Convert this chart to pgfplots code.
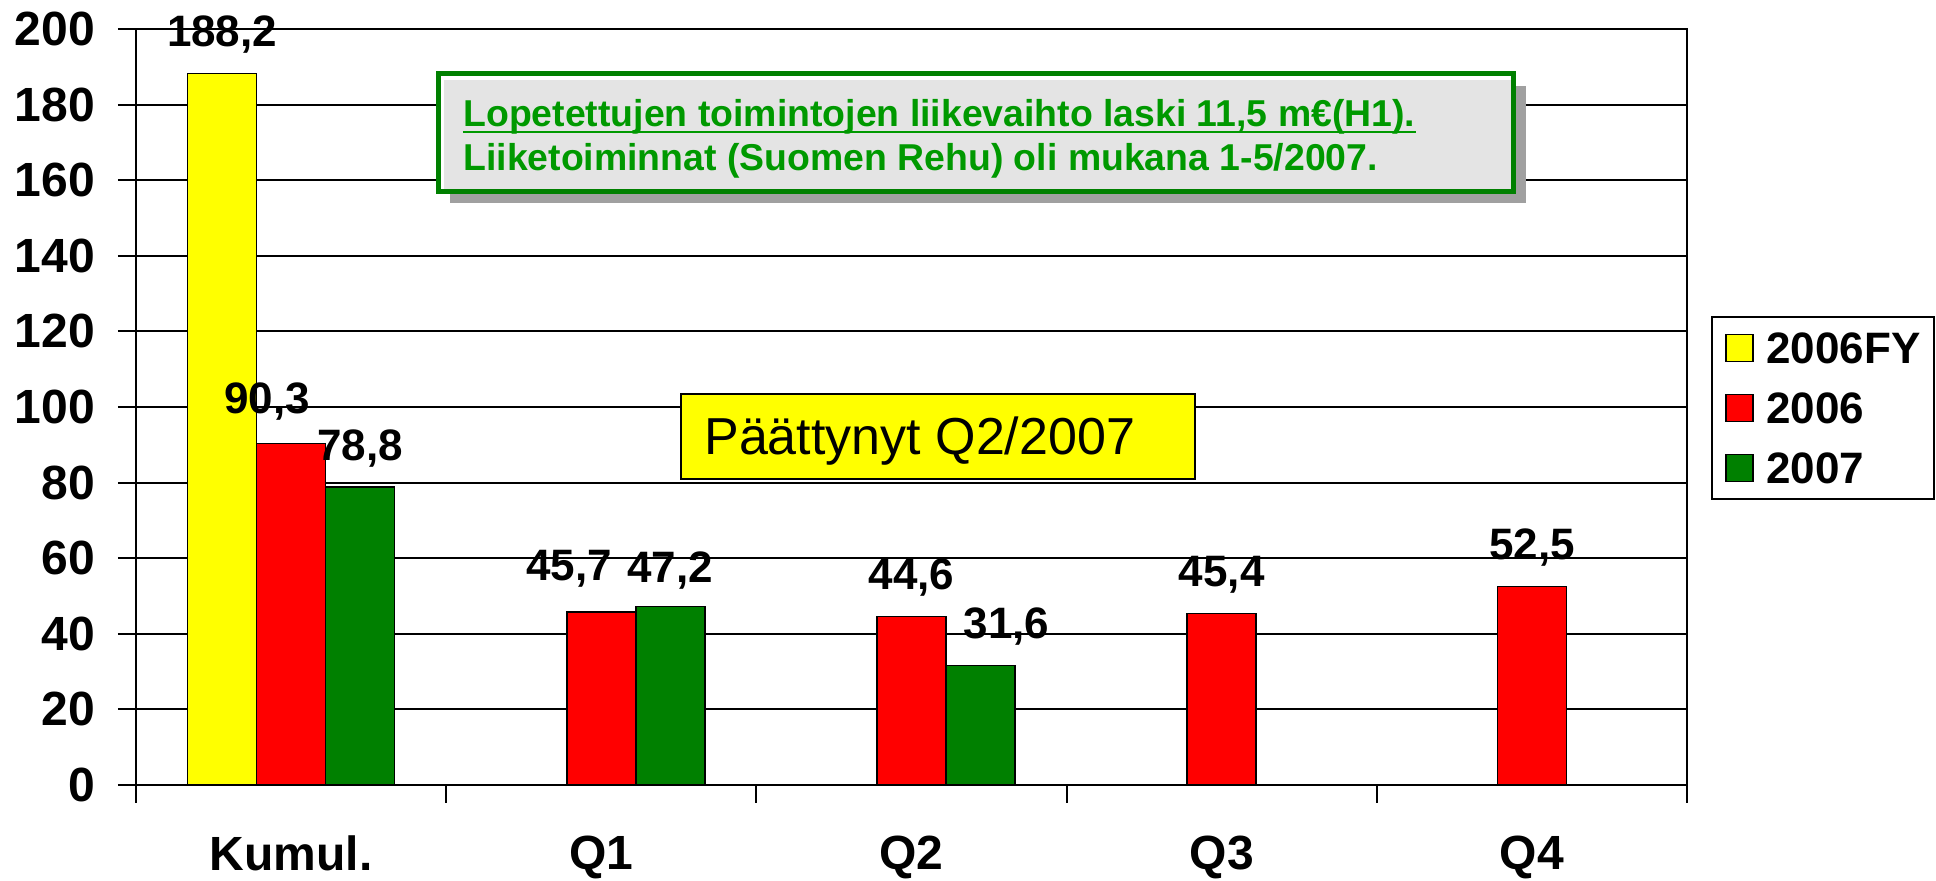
\documentclass[border=0pt]{standalone}
\usepackage{pgfplots}
\pgfplotsset{compat=1.18}
\usepackage{pgfplotstable}
\usepackage{fontspec}
\setmainfont{Liberation Sans}
\definecolor{cy}{HTML}{FFFF00}
\definecolor{cr}{HTML}{FF0000}
\definecolor{cg}{HTML}{008000}
\definecolor{txtgreen}{HTML}{009900}
\definecolor{boxgreen}{HTML}{008000}
\definecolor{boxfill}{HTML}{E4E4E4}
\definecolor{shadowgray}{HTML}{A0A0A0}
\newcommand{\tickfont}{\fontsize{24}{28}\selectfont\bfseries}
\newcommand{\lblfont}{\fontsize{22}{26}\selectfont\bfseries}
\newcommand{\valfont}{\fontsize{22}{26}\selectfont\bfseries}

\pgfplotstableread{
x y dx dy
0 188.2 0 0
}\tfy
\pgfplotstableread{
x y dx dy
0 90.3 -12 1.5
1 45.7 -16 2.5
2 44.6 0 0
3 45.4 0 0
4 52.5 0 0
}\tred
\pgfplotstableread{
x y dx dy
0 78.8 0 0
1 47.2 0 -1.5
2 31.6 13 0
}\tgreen

\pgfplotsset{sq/.style={legend image code/.code={\draw[##1,line width=0.75pt] (0pt,-6.75pt) rectangle (13.5pt,6.75pt);}}}

\begin{document}
\begin{tikzpicture}
\begin{axis}[
  scale only axis, width=775.5pt, height=378pt,
  xmin=-0.5, xmax=4.5, ymin=0, ymax=200,
  ytick={0,20,...,200},
  xtick={-0.5,0.5,...,4.5},
  x tick label as interval,
  xticklabels={Kumul.,Q1,Q2,Q3,Q4},
  ymajorgrids, major grid style={black, line width=1pt},
  axis line style={black, line width=1pt},
  tick style={black, line width=1pt},
  tick align=outside, major tick length=9pt,
  tick pos=left,
  tick label style={font=\tickfont},
  yticklabel style={xshift=-8pt},
  xticklabel style={yshift=-13pt},
  /pgf/number format/assume math mode=true,
  clip=false,
  ybar, bar width=0.2225,
  visualization depends on={\thisrow{dx} \as \dx},
  visualization depends on={\thisrow{dy} \as \dy},
  nodes near coords={\pgfmathprintnumber[assume math mode=true,use comma,fixed,fixed zerofill,precision=1]{\pgfplotspointmeta}},
  every node near coord/.append style={font=\valfont, text=black, anchor=base, inner sep=0pt, yshift=13.5pt, xshift=\dx, yshift=\dy},
  legend style={at={(1,0.6204)}, anchor=north west, xshift=12pt, draw=black, line width=1pt, fill=white,
    inner xsep=6.5pt, inner ysep=7.5pt, row sep=14pt, font=\lblfont, cells={anchor=west},
    nodes={inner sep=0pt, text height=16pt, text depth=0pt},
    /tikz/every odd column/.append style={column sep=6.5pt}},
]
\addplot[fill=cy, draw=black, line width=0.75pt, bar shift=-0.2225, sq] table[x=x,y=y]{\tfy};
\addlegendentry{2006FY}
\addplot[fill=cr, draw=black, line width=0.75pt, bar shift=0, sq] table[x=x,y=y]{\tred};
\addlegendentry{2006}
\addplot[fill=cg, draw=black, line width=0.75pt, bar shift=0.2225, sq] table[x=x,y=y]{\tgreen};
\addlegendentry{2007}

\coordinate (SW) at (rel axis cs:0,0);
\coordinate (NE) at (rel axis cs:1,1);

% green text box
\fill[shadowgray] ([xshift=6pt,yshift=-6pt]axis cs:0.4736,157.1) rectangle ([xshift=6pt,yshift=-6pt]axis cs:3.942,188.1);
\draw[draw=boxgreen, line width=2.5pt, fill=white] (axis cs:0.4736,157.1) rectangle (axis cs:3.942,188.1);
\fill[boxfill] ([xshift=3pt,yshift=1.3pt]axis cs:0.4736,157.1) rectangle ([xshift=-1.3pt,yshift=-3pt]axis cs:3.942,188.1);
\node[anchor=base west, inner sep=0pt, font=\fontsize{18.7}{22}\selectfont\bfseries, text=txtgreen] (l1) at (axis cs:0.554,174.1) {Lopetettujen toimintojen liikevaihto laski 11,5 m€(H1).};
\draw[txtgreen, line width=1.2pt] ([yshift=-2.5pt]l1.base west) -- ([yshift=-2.5pt]l1.base east);
\node[anchor=base west, inner sep=0pt, font=\fontsize{18.7}{22}\selectfont\bfseries, text=txtgreen] at (axis cs:0.554,162.5) {Liiketoiminnat (Suomen Rehu) oli mukana 1-5/2007.};

% yellow box
\draw[fill=cy, draw=black, line width=0.75pt] (axis cs:1.257,80.95) rectangle (axis cs:2.914,103.4);
\node[anchor=base west, inner sep=0pt, font=\fontsize{26}{30}\selectfont] at (axis cs:1.331,87.3) {Päättynyt Q2/2007};
\end{axis}
\pgfresetboundingbox
\path ([xshift=-68pt,yshift=-48pt]SW) rectangle ([xshift=124.5pt,yshift=14.5pt]NE);
\end{tikzpicture}
\end{document}
